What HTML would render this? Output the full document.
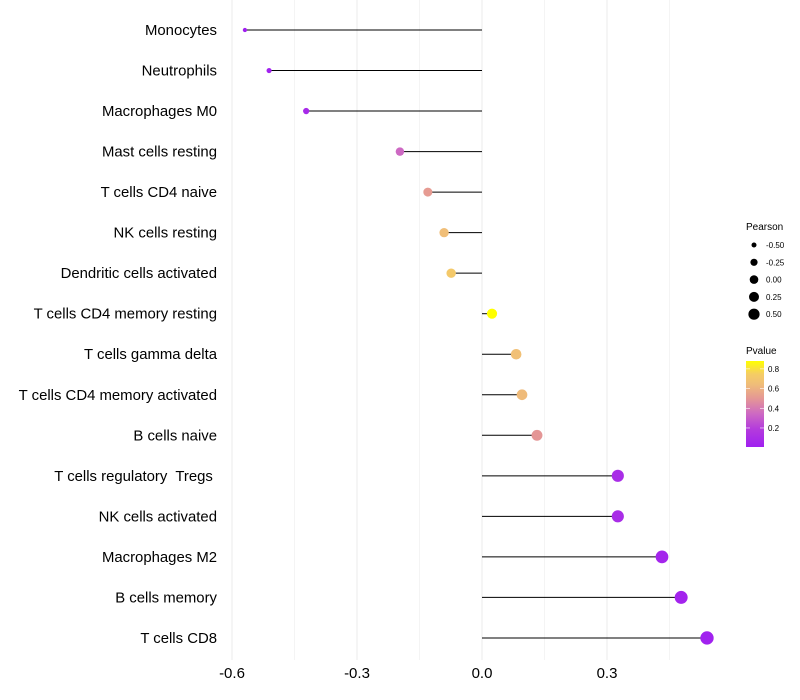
<!DOCTYPE html>
<html><head><meta charset="utf-8"><style>
body{margin:0;background:#fff;font-family:"Liberation Sans",sans-serif}
svg{display:block}
text{white-space:pre}
</style></head><body>
<svg id="chart" width="800" height="700" xmlns="http://www.w3.org/2000/svg">
<g id="grid"></g>
<g id="marks"></g>
<g id="ylabels"></g>
<g id="xlabels"></g>
<g id="legend"></g>
</svg>
<script>
const categories=["Monocytes","Neutrophils","Macrophages M0","Mast cells resting","T cells CD4 naive","NK cells resting","Dendritic cells activated","T cells CD4 memory resting","T cells gamma delta","T cells CD4 memory activated","B cells naive","T cells regulatory  Tregs ","NK cells activated","Macrophages M2","B cells memory","T cells CD8"];
const pearson=[-0.569,-0.511,-0.422,-0.197,-0.130,-0.091,-0.074,0.024,0.082,0.096,0.132,0.326,0.326,0.432,0.478,0.540];
const pvalue=[0.02,0.03,0.08,0.35,0.52,0.65,0.72,0.88,0.66,0.64,0.5,0.1,0.1,0.05,0.04,0.03];
const xTicks=[-0.6,-0.3,0,0.3];
const xMinor=[-0.45,-0.15,0.15,0.45];
const sizeLegend=[-0.5,-0.25,0,0.25,0.5];
const pTicks=[0.2,0.4,0.6,0.8];

const NS="http://www.w3.org/2000/svg";
const X=v=>482+v*416.67;
const Y=i=>30+i*40.53;
const R=v=>Math.sqrt(Math.max(2,25+36*v));
const stops=[[0.017,[160,32,240]],[0.2,[180,60,220]],[0.35,[205,105,195]],[0.5,[228,150,150]],[0.65,[240,190,120]],[0.75,[245,205,100]],[0.88,[255,255,0]]];
function col(p){
  if(p<=stops[0][0])return `rgb(${stops[0][1]})`;
  for(let i=1;i<stops.length;i++){if(p<=stops[i][0]){const a=stops[i-1],b=stops[i],t=(p-a[0])/(b[0]-a[0]);
    return `rgb(${a[1].map((c,k)=>Math.round(c+(b[1][k]-c)*t)).join(',')})`;}}
  return 'rgb(255,255,0)';
}
function mk(tag,attrs,parent){const e=document.createElementNS(NS,tag);for(const k in attrs)e.setAttribute(k,attrs[k]);parent.appendChild(e);return e;}
const grid=document.getElementById('grid'),marks=document.getElementById('marks'),yl=document.getElementById('ylabels'),xl=document.getElementById('xlabels'),lg=document.getElementById('legend');
xMinor.forEach(v=>{const l=mk('line',{x1:X(v),x2:X(v),y1:0,y2:660,stroke:'#f4f4f4','stroke-width':1},grid);

});
xTicks.forEach(v=>{const l=mk('line',{x1:X(v),x2:X(v),y1:0,y2:660,stroke:'#ebebeb','stroke-width':1},grid);


const t=mk('text',{x:X(v),y:678,'text-anchor':'middle','font-size':15,fill:'#000'},xl);t.textContent=v===0?'0.0':v.toFixed(1);

});
categories.forEach((c,i)=>{
  const y=Y(i),v=pearson[i];
  const s=mk('line',{x1:X(0),x2:X(v),y1:y,y2:y,stroke:'#000','stroke-width':1},marks);
  
  
  const d=mk('circle',{cx:X(v),cy:y,r:R(v),fill:col(pvalue[i])},marks);
  
  
  const t=mk('text',{x:217,y:y+5,'text-anchor':'end','font-size':14.9,fill:'#000'},yl);t.textContent=c;
  
  
});
let t=mk('text',{x:746,y:230,'font-size':10,fill:'#000'},lg);t.textContent='Pearson';


const LR=[2.5,3.6,4.3,5.0,5.6];
sizeLegend.forEach((v,i)=>{const y=245+i*17.3;
 const c=mk('circle',{cx:754,cy:y,r:LR[i],fill:'#000'},lg);
 
 
 const tx=mk('text',{x:766,y:y+3,'font-size':8,fill:'#000'},lg);tx.textContent=v.toFixed(2);
 
 });
t=mk('text',{x:746,y:354,'font-size':10,fill:'#000'},lg);t.textContent='Pvalue';


const defs=mk('defs',{},lg);const gr=mk('linearGradient',{id:'pg',x1:0,y1:1,x2:0,y2:0},defs);
stops.forEach(s=>mk('stop',{offset:(s[0]-0.017)/(0.88-0.017),'stop-color':`rgb(${s[1]})`},gr));
const bar=mk('rect',{x:746,y:361,width:18,height:86,fill:'url(#pg)'},lg);


const PY=p=>446-(p-0.017)/(0.88-0.017)*85;
pTicks.forEach(p=>{const tx=mk('text',{x:768,y:PY(p)+3,'font-size':8,fill:'#000'},lg);tx.textContent=p.toFixed(1);
 
 
 mk('line',{x1:746,x2:750,y1:PY(p),y2:PY(p),stroke:'#fff','stroke-width':0.6},lg);
 mk('line',{x1:760,x2:764,y1:PY(p),y2:PY(p),stroke:'#fff','stroke-width':0.6},lg);});
</script>
</body></html>
